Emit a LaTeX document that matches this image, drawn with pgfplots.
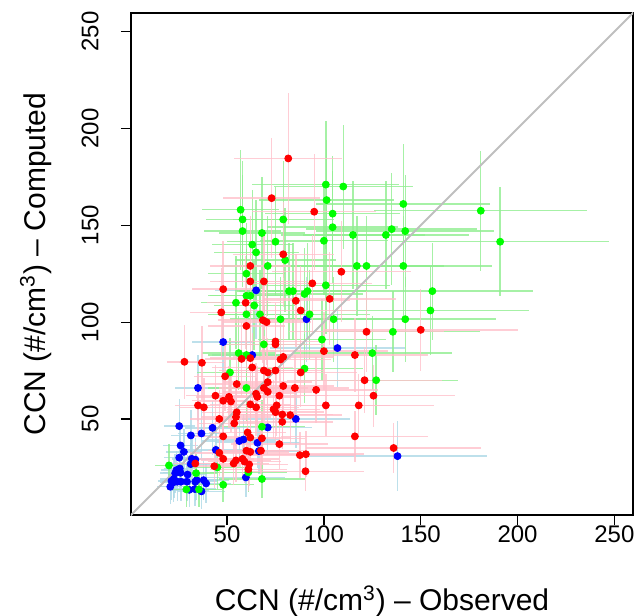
\documentclass[border=0pt]{standalone}
\usepackage{fontspec}
\setmainfont{Liberation Sans}
\usepackage{pgfplots}
\usepackage{pgfplotstable}
\pgfplotsset{compat=1.18}

\definecolor{ptred}{RGB}{255,0,0}
\definecolor{ptgreen}{RGB}{0,255,0}
\definecolor{ptblue}{RGB}{0,0,255}
\definecolor{ebred}{RGB}{255,192,203}
\definecolor{ebgreen}{RGB}{144,238,144}
\definecolor{ebblue}{RGB}{173,216,230}

% x = observed, y = computed, ex/ey = error half-widths
\pgfplotstableread{
x y ex ey
65 116.4 21 25
91 101.5 30 22
48 89.7 16 20
107 86.6 35 20
63 83 21 19
35 66 12 17
85.5 50 28 15
71 45.6 23 14
25.3 46.3 8 14
42.5 45.4 14 14
31.3 41.5 10 13
36.8 42.5 12 13
56.3 38.6 19 13
58.5 39.4 19 13
65.7 37.7 22 13
26 36.3 9 12
27.7 33 9 12
44.2 34 15 12
66.4 33.4 22 12
25.3 30 8 11
31.8 29.4 10 11
33.6 29 11 11
31.2 26.7 10 11
138 30.8 46 18
25.6 24.4 8 11
23.9 23.6 8 10
23.2 22 8 10
26 22.2 9 10
29.6 21.3 10 10
22.5 19 7 10
21.3 18 7 10
22.2 17.2 7 10
24.3 17.6 8 10
26.2 17.6 9 10
20.7 15 7 9
29.3 17.6 10 10
33.6 17.6 11 10
34.3 18.4 11 10
37.9 18.4 13 10
39.2 16.7 13 10
30.5 13.4 10 9
33.4 13.8 11 9
36.8 12.6 12 9
59.7 19.8 20 10
}\bluedata

\pgfplotstableread{
x y ex ey
101 171 38 33
110 170 36 32
101.4 163 35 31
141 161 45 31
181 157.5 55 31
57 158 20 31
58 153 19 30
79 153 26 30
104.5 156 35 30
58 147 20 29
68 146 22 29
104.5 149 34 29
135 148 44 29
142 147 46 29
115 145 37 28
132 145 43 28
191 141.5 56 28
75 141.5 25 28
100 142 33 28
63 140 21 28
65 136 22 27
80 132 26 27
71 129 24 26
117 129 38 26
122 129 40 26
141 129 46 26
60 125 20 26
101 119 33 25
156 116 52 25
82 116 27 25
84 116 28 25
90 114.5 30 24
91.5 116 30 25
60 113.6 20 24
62 113.6 21 24
54.6 110 18 24
64 108.6 21 23
155 106 51 23
60 104 20 23
67 104 22 23
92.6 104 31 23
77.6 101.5 26 22
105 101.5 35 22
142 101.5 47 22
135.6 95 45 21
69 88.5 23 20
99 91 33 21
56 84 19 19
60 83 20 19
125 84 41 19
127 70 42 18
90 76 30 18
51.5 74 17 18
60 66 20 17
68 46 22 14
48 16 16 9
68 19 22 10
61 22.4 20 10
45 25 15 11
20 26 7 11
34 22 11 10
35.5 13.6 12 9
29 13.6 10 9
}\greendata

\pgfplotstableread{
x y ex ey
81.6 184.5 28 34
73 164 25 31
95 157 32 30
79 135 26 27
62 129 21 26
109 126 36 26
62 121 21 25
69 121 23 25
94 120 31 25
48 117 16 25
103 112 34 24
85.5 111 28 24
59.6 110 20 24
88 106 29 23
47 105 16 23
68.5 101 23 22
70.4 100 23 22
60 98 20 22
122 95 40 21
150 96 50 21
75 90 25 20
75 88.5 25 20
100 85 33 20
116 83 38 19
57.5 81 19 19
62 81.4 21 19
77.6 80.7 26 19
79 82 26 19
28 79.5 9 19
37 79 12 19
63 76.6 21 18
69 75 23 18
71 74 23 18
75 75 25 18
88 74 29 18
49 72 16 18
121 70 40 17
71 69 23 17
55 68 18 17
79 67 26 17
85 66 28 17
96 65 32 17
69 66 23 17
71 64 23 17
65 63 21 16
65.6 61.4 22 16
44 62 15 16
51 61.4 17 16
77 62 25 16
125.6 62 42 16
48 59.4 16 16
52 59 17 16
62 57.5 21 16
65 56 22 15
101 57 33 16
118 57 39 16
35 57 12 16
38 56 13 15
75.6 57 25 16
74 55 24 15
75 53.5 25 15
55 53.4 18 15
78.5 52.3 26 15
82.6 52 27 15
54.6 51 18 15
53.7 47.7 18 14
46 50 15 15
78.5 48.5 26 14
48 41 16 13
60.6 43 20 13
62 40.4 21 13
68 40 22 13
77 37 25 13
116 41 38 13
136 35 45 13
67.5 33.6 22 12
60 33.6 20 12
62 33 20 12
46 32.5 15 12
87.6 31.3 29 12
90.7 31.8 30 12
48 29.4 16 11
58 29.4 19 11
59 28 19 11
54.6 28.6 18 11
53.4 27 18 11
33.6 27 11 11
61.4 26.5 20 11
43.4 25.6 14 11
61 24 20 11
90.5 23 30 10
}\reddata

\begin{document}
\begin{tikzpicture}
\path[use as bounding box] (-65.5pt,-50pt) rectangle (254.5pt,257.5pt);
\begin{axis}[
  width=251pt, height=251pt, scale only axis,
  xmin=0.4, xmax=259.6, ymin=0.4, ymax=259.6,
  xtick={50,100,150,200,250},
  ytick={50,100,150,200,250},
  xtick pos=bottom, ytick pos=left,
  tick align=outside,
  major tick length=5pt,
  tick style={black, line width=0.6pt},
  axis line style={line width=0.9pt},
  ticklabel style={font=\fontsize{12}{14}\selectfont},
  /pgf/number format/assume math mode=true,
  xticklabel style={anchor=north, inner xsep=0pt, inner ysep=0pt},
  yticklabel={\rotatebox{90}{\pgfmathprintnumber{\tick}}},
  yticklabel style={anchor=east, inner sep=0pt, xshift=-11pt},
  label style={font=\fontsize{15}{18}\selectfont},
  xlabel={CCN (\#/cm\textsuperscript{3}) – Observed},
  ylabel={CCN (\#/cm\textsuperscript{3}) – Computed},
  xlabel style={at={(axis description cs:0.5,-0.172)}, anchor=center},
  ylabel style={at={(axis description cs:-0.19,0.5)}, anchor=center},
  error bars/error mark=none,
]
% blue series
\addplot[draw=none, mark=none, forget plot, error bars/.cd, x dir=both, x explicit, y dir=both, y explicit,
  error bar style={draw=ebblue, line width=0.7pt, opacity=0.8}]
  table[x=x, y=y, x error=ex, y error=ey] {\bluedata};
\addplot[only marks, mark=*, mark size=1.75pt, draw=ptblue, fill=ptblue] table[x=x, y=y] {\bluedata};
% green series
\addplot[draw=none, mark=none, forget plot, error bars/.cd, x dir=both, x explicit, y dir=both, y explicit,
  error bar style={draw=ebgreen, line width=0.7pt, opacity=0.8}]
  table[x=x, y=y, x error=ex, y error=ey] {\greendata};
\addplot[only marks, mark=*, mark size=1.75pt, draw=ptgreen, fill=ptgreen] table[x=x, y=y] {\greendata};
% red series
\addplot[draw=none, mark=none, forget plot, error bars/.cd, x dir=both, x explicit, y dir=both, y explicit,
  error bar style={draw=ebred, line width=0.7pt, opacity=0.8}]
  table[x=x, y=y, x error=ex, y error=ey] {\reddata};
\addplot[only marks, mark=*, mark size=1.75pt, draw=ptred, fill=ptred] table[x=x, y=y] {\reddata};
% 1:1 line
\addplot[gray!50, line width=1pt] coordinates {(0,0) (260,260)};
\end{axis}
\end{tikzpicture}
\end{document}
